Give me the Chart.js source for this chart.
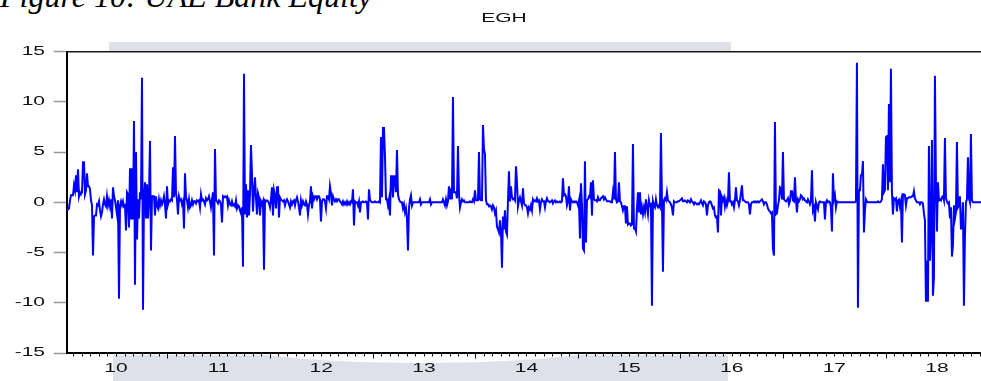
<!DOCTYPE html>
<html><head><meta charset="utf-8">
<script src="https://cdn.jsdelivr.net/npm/chart.js@4.4.1/dist/chart.umd.min.js"></script>
<style>
html,body{margin:0;padding:0;width:981px;height:381px;overflow:hidden;background:#fff;}
#wrap{position:relative;width:981px;height:381px;overflow:hidden;}
.band{position:absolute;background:#dfe1ea;}
#cap{position:absolute;left:0;top:-20px;font-family:'Liberation Serif','Times New Roman',serif;font-style:italic;font-size:32px;line-height:32px;color:#000;white-space:nowrap;}
#c{position:absolute;left:0;top:0;}
</style></head><body>
<div id="wrap">
<div class="band" style="left:109px;top:42px;width:622px;height:9px"></div>
<div class="band" style="left:113px;top:355px;width:615px;height:26px"></div>
<div style="position:absolute;left:214px;top:315px;width:416px;height:48px;border-radius:50%;background:#fff"></div>
<div id="cap">Figure 10: UAE Bank Equity</div>
<canvas id="c" width="1000" height="381"></canvas>
</div>
<script>
const seg2010 = [
-0.7,-0.7,-0.6,0.2,0.7,0.7,0.7,1.7,1.2,2.7,
1.0,3.3,0.6,1.0,0.8,1.0,4.0,4.0,0.8,1.2,
2.9,1.6,1.6,1.3,0.2,-0.3,-5.3,-1.4,-1.3,-1.3,
-0.2,-0.3,0.1,-0.8,-1.4,-1.0,-0.2,0.3,-0.2,-0.4,
0.6,-0.3,0.2,-0.4,0.3,-1.6,1.5,0.6,0.2,-0.5,
-1.2,0.2,-9.6,-0.3,0.1,-0.3,0.1,-0.4,-0.3,-2.8,
1.0,0.8,-2.5,3.4,-1.7,3.4,-1.7,8.1,-8.2,5.0,
-3.7,0.3,-1.6,1.0,0.3,12.4,-10.7,0.4,2.0,-1.6,
1.8,-1.6,0.5,6.1,-4.8,0.6,0.6,0.6,-1.3,0.6,
-0.3,-0.6,0.3,-0.3,0.2,-0.2,0.1,0.6,-0.2,-1.6,
1.6];
const seg2011 = [
-0.2,0.2,0.1,0.3,0.2,3.5,0.5,6.6,0.9,0.3,
-1.2,0.6,0.2,0.3,-0.2,0.1,-2.6,2.9,0.5,0.2,
-0.5,0.3,-0.5,-0.3,0.2,-0.2,0.1,0.1,-0.1,0.2,
0.1,0.2,-0.5,0.8,0.2,0.3,0.1,-0.2,0.4,0.2,
0.3,0.6,0.1,-0.5,0.3,1.0,-5.3,5.3,0.2,0.1,
-0.1,0.2,0.1,-0.2,-2.0,0.6,0.5,0.6,0.5,0.6,
-0.3,0.2,-0.2,-0.3,0.1,-0.3,-0.2,-0.4,0.2,-0.6,
-0.3,-0.4,-0.8,-1.1,-0.5,-6.4,12.8,-1.2,1.8,-1.5,
1.2,-1.3,0.8,5.7,2.7,-0.9,1.0,2.5,0.5,-1.2,
0.9,0.5,-1.3,0.1,-0.2,0.1,-6.7,0.2,0.1,0.2,
0.1,-0.1];
const seg2012 = [
-0.5,0.3,1.5,-1.3,1.2,0.7,-0.6,1.5,1.5,-1.5,
0.5,0.3,0.2,0.1,0.2,-0.3,0.1,0.3,0.1,-0.2,
-0.5,0.1,-0.2,0.1,0.2,-0.3,0.2,0.5,0.1,-0.5,
-1.3,0.2,-0.3,0.1,-0.2,-0.3,0.1,-0.2,-1.2,-0.3,
0.1,1.6,-0.6,0.6,0.3,0.6,0.6,0.3,0.6,0.6,
0.3,-1.9,0.1,0.3,0.3,0.1,-0.6,0.6,0.6,0.3,
1.6,0.9,-0.3,0.6,0.3,0.1,0.3,0.1,0.3,0.3,
0.1,0.0,-0.2,0.1,-0.2,0.0,-0.2,0.1,-0.2,0.0,
-0.2,0.1,0.0,1.3,-2.3,0.1,0.0,0.0,-0.3,0.1,
-1.0,0.0,0.0,0.1,0.0,0.0,0.1,0.0,-1.7,1.3,
0.3,0.1,0.0];
const seg2013 = [
0.0,0.0,0.1,0.0,0.0,0.0,0.1,0.0,6.5,0.5,
7.4,7.4,4.6,0.3,0.3,-0.3,0.3,-1.3,2.6,2.6,
0.5,2.6,2.6,1.0,5.2,0.8,0.3,0.1,0.0,0.0,
-0.6,-0.2,-1.0,-0.6,-1.6,-4.8,-0.6,0.3,0.7,-0.3,
0.0,0.0,0.0,0.0,0.0,0.0,0.0,0.3,-0.2,0.0,
0.0,0.0,0.0,0.0,0.0,0.0,0.0,0.3,-0.2,0.0,
0.0,0.0,0.0,0.0,0.0,0.0,0.0,0.0,0.0,0.0,
0.3,0.0,-0.3,0.3,-0.3,0.1,1.6,0.3,1.4,0.3,
10.5,1.0,1.0,1.0,0.4,5.6,0.8,-0.5,0.0,0.3,
0.1,0.2,0.0,0.0,0.0,0.0,0.0,0.1,0.0,0.0,
0.3,0.1,1.2];
const seg2014 = [
0.2,0.2,0.2,5.0,0.3,0.2,0.2,7.7,5.3,4.8,
0.2,-0.2,-0.2,-0.4,-0.3,-0.4,-0.7,-0.3,-0.5,-1.1,
-0.8,-2.4,-2.7,-3.0,-1.8,-2.8,-6.5,-1.4,-2.7,-0.8,
-2.9,-3.2,0.1,3.1,0.1,1.6,0.5,0.3,0.4,0.2,
3.6,2.0,-0.4,0.2,0.5,0.1,-0.3,1.4,-0.1,-0.3,
-0.3,-0.5,-1.1,-0.5,-0.7,-0.3,-0.8,0.3,0.1,0.2,
0.1,0.4,0.1,0.2,-0.7,0.0,0.3,0.1,0.1,-0.5,
0.1,0.4,0.1,0.1,0.0,0.1,0.2,-0.1,0.1,0.2,
0.0,0.1,0.0,0.0,0.1,0.0,0.1,2.4,0.7,0.8,
0.6,-0.3,0.1,1.6,-0.8,0.3,0.1,0.0,0.1,0.0,
0.1,0.0];
const seg2015 = [
-0.3,0.2,-3.6,1.9,-0.2,-4.6,-4.8,4.1,-4.0,0.2,
0.3,0.6,0.5,2.0,-1.3,2.2,0.3,0.2,0.2,0.1,
0.5,0.2,0.2,0.4,0.5,0.6,0.3,0.5,0.3,0.1,
0.1,0.1,0.1,0.0,0.0,1.0,0.3,5.0,0.3,0.0,
0.1,2.0,0.1,0.0,-0.4,-0.8,-0.4,-0.4,-2.1,-0.4,
-2.2,-2.1,-2.1,-2.3,-2.2,5.8,-2.6,-2.6,-2.9,-0.6,
1.0,-1.0,1.0,-1.2,-0.5,-1.2,-0.5,-1.0,0.3,-0.5,
-1.2,0.2,-0.3,-0.2,-10.3,0.1,-0.3,-0.5,0.3,-0.3,
-0.5,-0.3,-0.5,6.9,0.1,-6.9,0.2,0.4,0.2,1.0,
0.2,0.1,0.0,-0.2,-0.5,-1.3,0.1,0.0,0.0,0.0,
0.1,0.1,0.2];
const seg2016 = [
0.3,0.4,0.1,0.1,0.2,0.1,0.0,0.2,0.1,0.0,
0.3,0.1,0.0,-0.2,0.0,-0.1,-0.2,-0.1,-0.2,0.0,
0.2,-0.1,-0.3,0.1,0.0,-0.2,-1.3,-0.3,0.0,0.1,
0.0,-0.3,-0.6,-0.5,-1.3,-1.5,-1.4,-3.0,1.2,1.1,
-1.3,0.5,0.2,0.5,-0.4,0.2,-0.3,0.1,3.0,0.1,
0.1,-0.2,0.0,-0.5,0.2,1.5,0.2,0.1,-0.3,0.2,
0.9,1.7,0.2,0.2,0.1,0.0,0.0,0.0,-0.2,-1.2,
-0.2,0.0,0.0,0.1,0.0,0.1,0.0,0.1,0.0,0.1,
0.2,0.3,0.1,-0.2,0.0,0.0,-0.2,-0.6,-0.8,-0.9,
-1.1,-1.0,-4.6,-5.3,8.0,-1.2,-1.1,-0.3,0.2,1.5,
1.4,0.3];
const seg2017 = [
5.0,0.3,0.2,0.1,0.2,0.4,-0.2,0.1,1.1,1.1,
0.2,0.1,2.5,0.3,-1.0,0.3,0.1,0.3,0.7,0.6,
0.3,0.4,0.2,0.1,0.0,0.3,0.1,-0.2,0.1,3.2,
-0.8,-0.5,-1.9,0.0,-0.4,-0.7,0.0,0.1,0.0,0.0,
0.0,0.0,-1.7,0.0,0.2,0.0,0.1,0.0,-0.5,-2.9,
2.9,0.3,0.7,-0.5,0.1,0.0,0.0,0.0,0.0,0.0,
0.0,0.0,0.0,0.0,0.0,0.0,0.0,0.0,0.0,0.0,
0.0,0.0,0.0,0.1,13.9,-10.5,1.2,1.2,2.7,2.7,
4.1,-3.0,-0.8,0.3,0.1,0.0,0.0,0.0,0.0,0.0,
0.0,0.0,0.0,0.0,0.0,0.1,0.0,0.0,0.1,0.3,
3.8,1.0,1.2];
const seg2018 = [
6.5,6.6,1.2,9.8,2.0,13.3,1.0,-1.2,0.4,0.3,
0.4,-0.9,0.2,0.3,-0.4,0.1,-4.0,0.8,0.8,0.7,
-0.3,0.4,0.4,0.5,0.5,0.5,0.6,0.6,1.1,0.4,
0.2,0.0,0.0,0.0,-0.2,0.0,0.0,-0.1,-1.1,-1.8,
-9.9,-5.8,-9.9,5.6,-5.8,-3.0,6.2,-9.3,-7.5,12.6,
2.1,-2.9,2.0,0.2,0.3,0.2,0.5,0.6,0.2,6.4,
0.4,0.1,-0.1,0.0,-1.6,-0.5,-5.4,-4.3,-0.3,-1.6,
-1.0,6.0,-0.5,-0.3,0.6,-2.6,-2.6,0.0,-10.3,-3.4,
0.0,0.3,4.5,0.4,0.0,6.8,0.2,0.0,0.0,0.0,
0.0,0.0,0.0,0.0,0.0,0.0,0.0,0.0,0.0];

const yTicks = [-15, -10, -5, 0, 5, 10, 15];
const yearLabels = ['10','11','12','13','14','15','16','17','18'];
const firstYear = 2010;
const seriesTitle = 'EGH';
const START = 2010.0224;      // time of first observation (years)
const STEP = 1 / 102.63;      // years between observations

const values = [].concat(seg2010, seg2011, seg2012, seg2013, seg2014, seg2015, seg2016, seg2017, seg2018);
const points = values.map((v, i) => ({ x: START + i * STEP, y: v }));

const SX = 1.75;
function stretched(ctx, text, x, y, align) {
  ctx.save();
  ctx.translate(x, y);
  ctx.scale(SX, 1);
  ctx.textAlign = align;
  ctx.textBaseline = 'middle';
  ctx.fillText(text, 0, 0);
  ctx.restore();
}

const deco = {
  id: 'deco',
  afterDraw(chart) {
    const { ctx, chartArea: a, scales: { x, y } } = chart;
    ctx.save();
    ctx.strokeStyle = '#1a1a1a';
    ctx.lineWidth = 1.5;
    ctx.beginPath();
    ctx.moveTo(a.left, a.top);
    ctx.lineTo(a.right, a.top);
    ctx.stroke();
    ctx.strokeStyle = '#111';
    ctx.lineWidth = 1;
    ctx.beginPath();
    for (let yr = firstYear; yr < firstYear + yearLabels.length; yr++) {
      for (let m = 0; m < 12; m++) {
        const t = yr + m / 12;
        if (t < x.min || t > x.max) continue;
        const px = Math.round(x.getPixelForValue(t)) + 0.5;
        const len = m === 0 ? 5.5 : 3.5;
        ctx.moveTo(px, a.bottom);
        ctx.lineTo(px, a.bottom + len);
      }
    }
    ctx.stroke();
    ctx.fillStyle = '#111';
    ctx.font = "12px 'Liberation Sans', Arial, sans-serif";
    yearLabels.forEach((lab, k) => stretched(ctx, lab, x.getPixelForValue(firstYear + k + 0.5), 369, 'center'));
    yTicks.forEach(v => stretched(ctx, String(v), 45, y.getPixelForValue(v), 'right'));
    stretched(ctx, seriesTitle, 504, 19, 'center');
    ctx.restore();
  }
};

new Chart(document.getElementById('c'), {
  type: 'line',
  data: {
    datasets: [{
      data: points,
      borderColor: '#0000ff',
      borderWidth: 2,
      pointRadius: 0,
      tension: 0,
      fill: false
    }]
  },
  options: {
    responsive: false,
    devicePixelRatio: 1,
    animation: false,
    events: [],
    layout: { padding: { left: 0, top: 51.7, right: 11.7, bottom: 0 } },
    plugins: { legend: { display: false }, tooltip: { enabled: false }, title: { display: false } },
    scales: {
      x: {
        type: 'linear',
        min: 2010.0195,
        max: 2019.0,
        ticks: { display: false },
        grid: { display: false },
        border: { display: true, color: '#000', width: 2 },
        afterFit: s => { s.height = 28; }
      },
      y: {
        min: -15, max: 15,
        ticks: { display: false, stepSize: 5 },
        afterBuildTicks: s => { s.ticks = yTicks.map(v => ({ value: v })); },
        grid: { drawOnChartArea: false, drawTicks: true, tickLength: 13, tickColor: '#9a9a9a', tickWidth: 1.5 },
        border: { display: true, color: '#000', width: 2 },
        afterFit: s => { s.width = 66.7; }
      }
    }
  },
  plugins: [deco]
});
</script>
</body></html>
